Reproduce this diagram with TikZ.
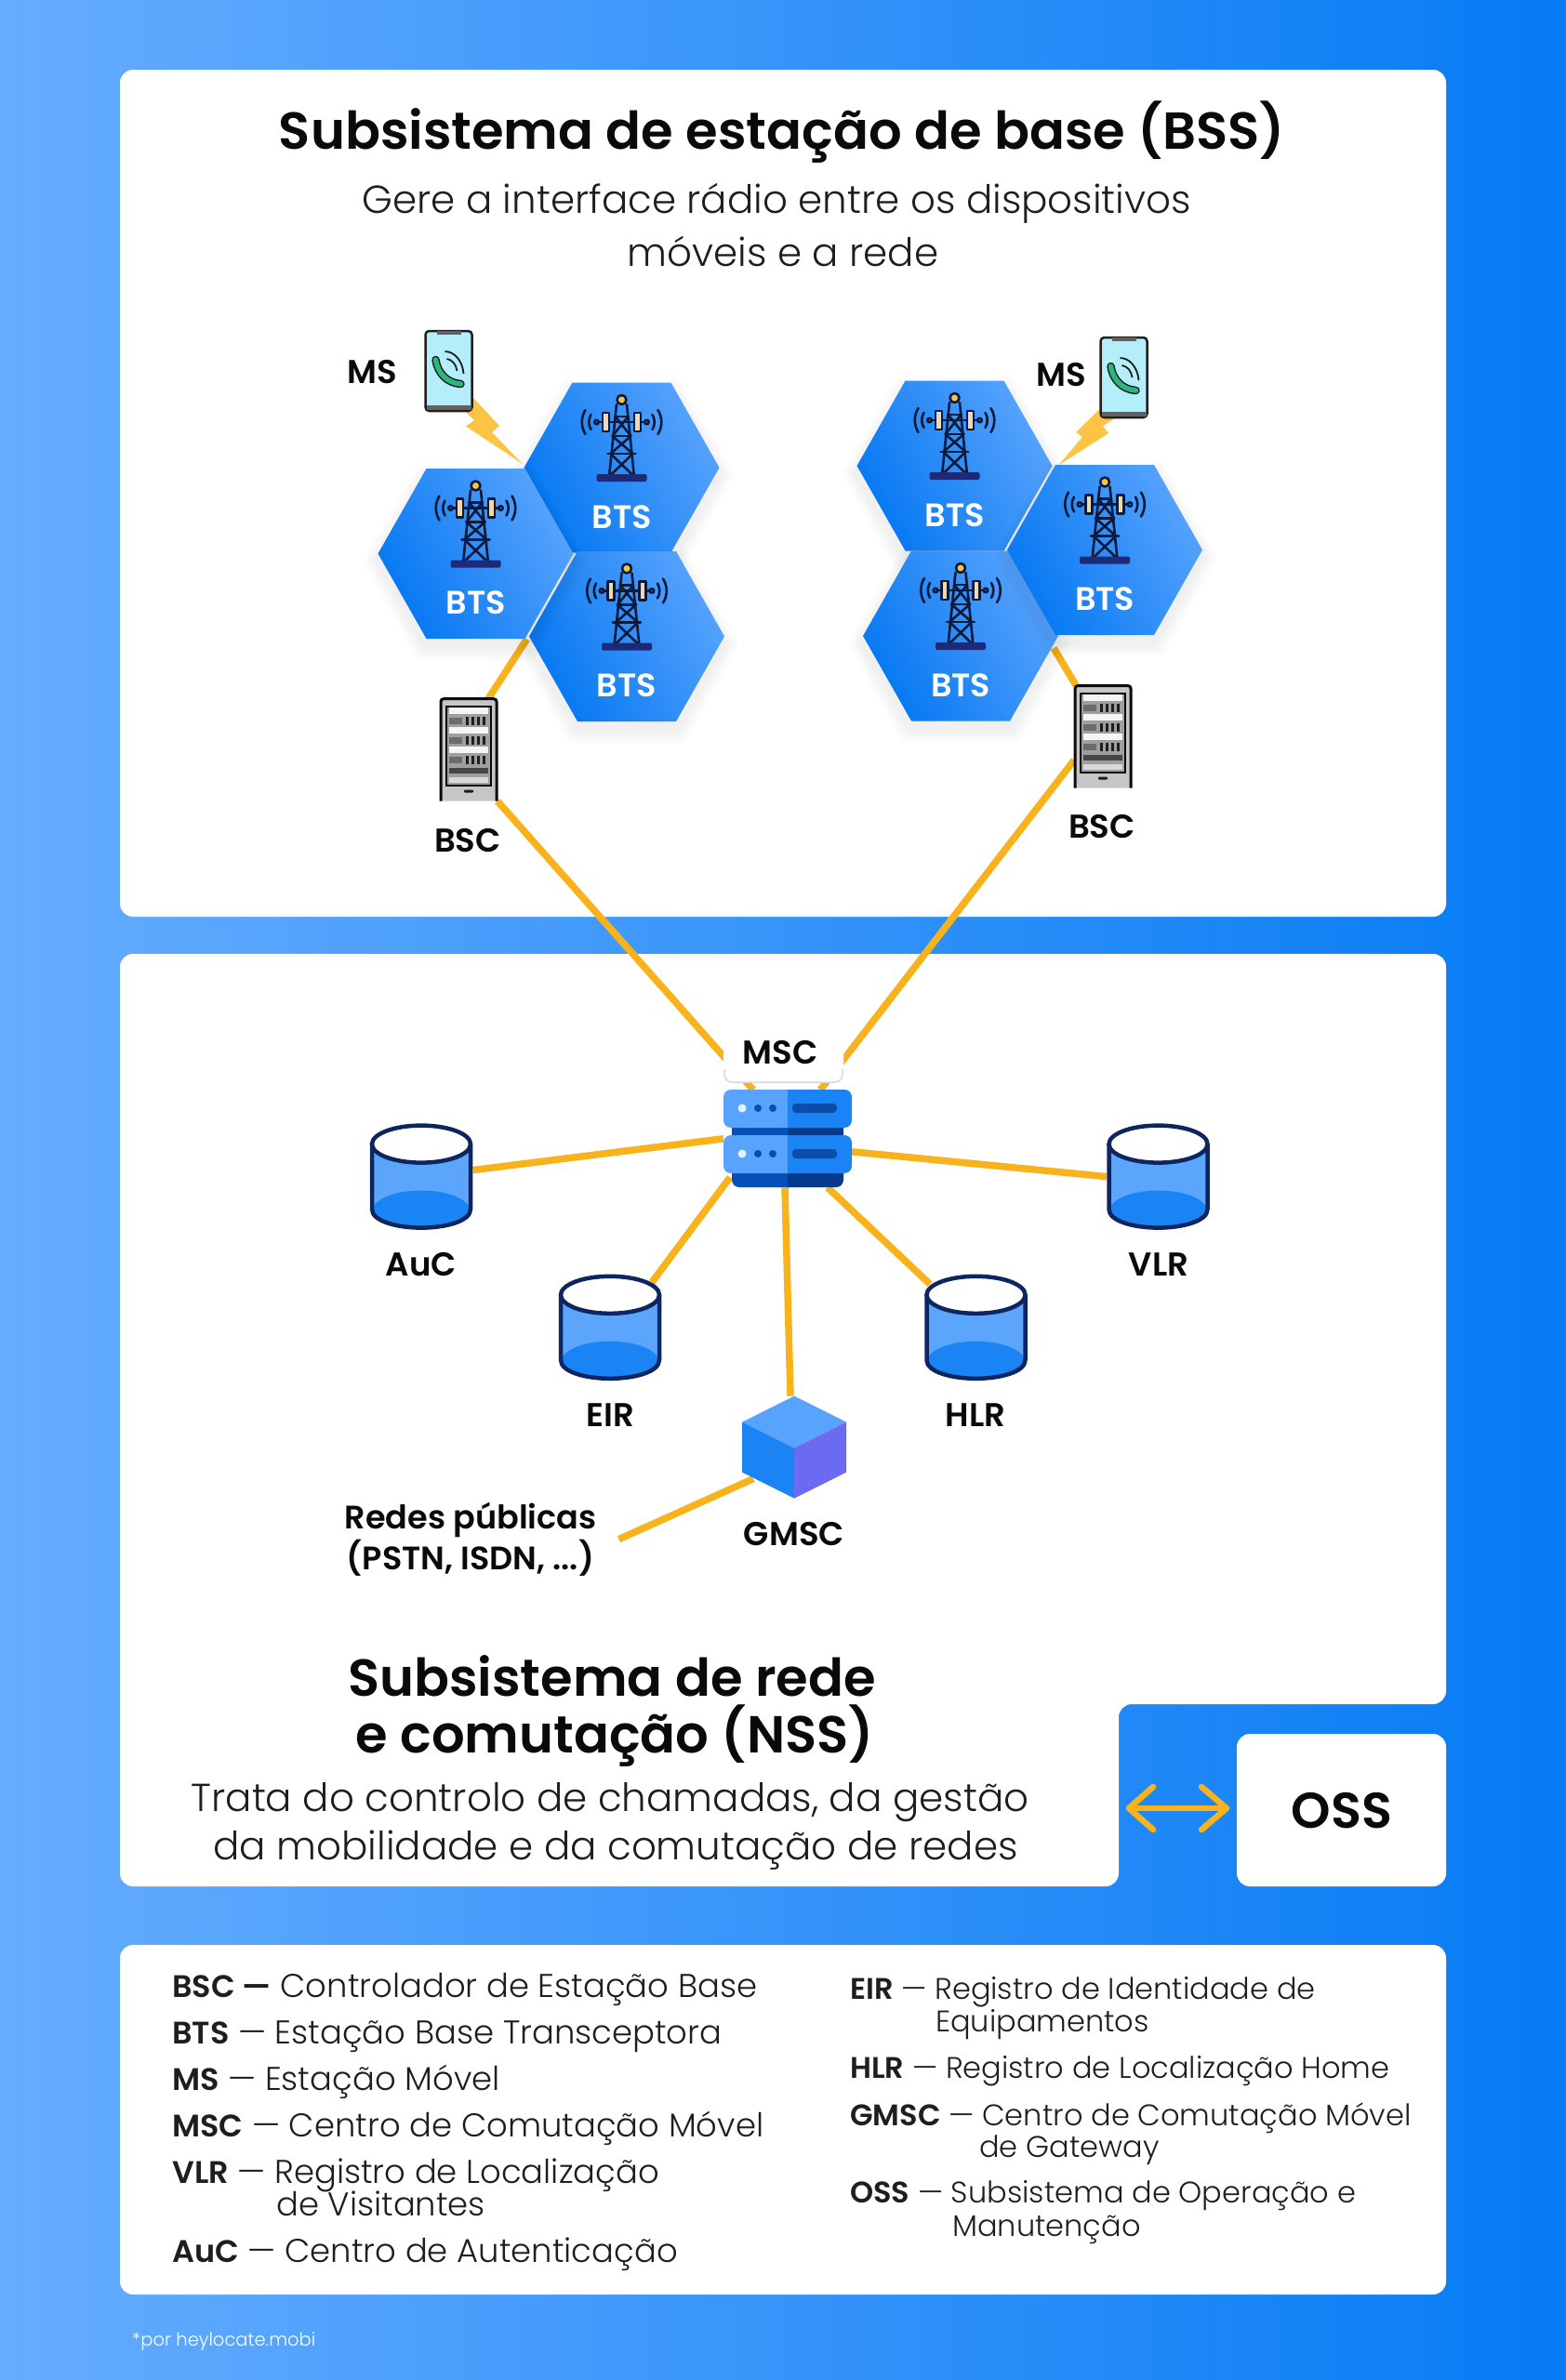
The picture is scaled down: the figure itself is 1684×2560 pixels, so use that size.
\documentclass[tikz,border=0pt]{standalone}
\usepackage{fontspec}
\setmainfont{Poppins}
\newfontfamily\plight{Poppins Light}
\newfontfamily\psemi{Poppins SemiBold}
\usetikzlibrary{calc}
\definecolor{bgL}{HTML}{66ADFF}
\definecolor{bgR}{HTML}{067BF4}
\definecolor{hexL}{HTML}{57A3FD}
\definecolor{hexR}{HTML}{0678F2}
\definecolor{wire}{HTML}{F8B31C}
\definecolor{bolt}{HTML}{FBC444}
\definecolor{navy}{HTML}{0D2660}
\definecolor{twr}{HTML}{0C1A3C}
\definecolor{twrbase}{HTML}{1E2A78}
\definecolor{cylS}{HTML}{5BA6FC}
\definecolor{cylL}{HTML}{1A84F5}
\definecolor{ink}{HTML}{0A0A0A}
\definecolor{ink2}{HTML}{1E1E1E}
\definecolor{cubeR}{HTML}{6A6BF0}
\definecolor{srvDL}{HTML}{0550B8}
\definecolor{srvDR}{HTML}{053A8D}
\definecolor{srvM}{HTML}{0B4DA8}
\definecolor{beige}{HTML}{EFD9B0}
\definecolor{screen}{HTML}{B5EEFB}
\definecolor{handset}{HTML}{2CB67D}
\tikzset{
  anchorbox/.style={inner sep=0pt,outer sep=0pt,minimum width=#1},
  wireline/.style={draw=wire,line width=7.5pt},
  panel/.style={fill=white,rounded corners=14pt},
  lab/.style={font=\psemi\fontsize{35.5}{35.5}\selectfont,text=ink,inner sep=0pt},
  btslab/.style={font=\psemi\fontsize{35}{35}\selectfont,text=white,inner sep=0pt},
  titlelab/.style={font=\psemi\fontsize{56}{56}\selectfont,text=ink,inner sep=0pt},
  sublab/.style={font=\plight\fontsize{42}{42}\selectfont,text=ink2,inner sep=0pt},
  leg/.style={font=\plight\fontsize{35.4}{35.4}\selectfont,text=ink2,inner sep=0pt,anchor=base west},
  legr/.style={font=\plight\fontsize{32}{32}\selectfont,text=ink2,inner sep=0pt,anchor=base west},
  arrowline/.style={wire,line width=6.5pt,line cap=round,line join=round},
}
\newcommand{\key}[1]{{\psemi\fontsize{33.5}{33.5}\selectfont #1}}
\newcommand{\keyr}[1]{{\psemi\fontsize{32}{32}\selectfont #1}}
\newcommand{\hexcell}[3]{%
  \begin{scope}[shift={(#2,#3)}]
    \foreach \s in {16,13,10,7,4}{
      \fill[black,opacity=0.012] (-105-\s,8) -- (-53-\s*0.6,-84-\s*0.6) -- (53+\s*0.6,-84-\s*0.6) -- (105+\s,8) -- (53+\s*0.6,99+\s) -- (-53-\s*0.6,99+\s) -- cycle;
    }
    \shade[left color=hexL,right color=hexR,shading angle=-60] (-105,0) -- (-53,-91.5) -- (53,-91.5) -- (105,0) -- (53,91.5) -- (-53,91.5) -- cycle;
    \begin{scope}[draw=twr,line width=2.6pt,line cap=round,line join=round]
      \draw (-5.5,-68) -- (-13.5,10) (5.5,-68) -- (13.5,10);
      \draw (-10,-34) -- (10,-34) (-15,-15) -- (15,-15) (-7,-55) -- (7,-55);
      \draw (-7,-55) -- (10,-34) (7,-55) -- (-10,-34) (-10,-34) -- (12,-15) (10,-34) -- (-12,-15) (-12,-15) -- (13,9) (12,-15) -- (-13,9);
      \draw (-24,-49) -- (24,-49);
      \draw[fill=beige] (-20.5,-59) rectangle (-13.5,-39);
      \draw[fill=beige] (13.5,-59) rectangle (20.5,-39);
      \draw[fill=hexL] (-27,-49) circle (2.2) (27,-49) circle (2.2);
      \draw (-33,-57) .. controls (-36,-52) and (-36,-46) .. (-33,-41);
      \draw (-39,-62) .. controls (-44,-54) and (-44,-44) .. (-39,-36);
      \draw (33,-57) .. controls (36,-52) and (36,-46) .. (33,-41);
      \draw (39,-62) .. controls (44,-54) and (44,-44) .. (39,-36);
      \draw[fill=bolt] (0,-73) circle (5);
    \end{scope}
    \fill[twrbase,rounded corners=2pt] (-27,7) rectangle (27,15);
    \node[btslab] (#1) at (0,53) {BTS};
  \end{scope}}
\newcommand{\phoneicon}[2]{%
  \begin{scope}[shift={(#1,#2)}]
    \draw[fill=screen,draw=ink2,line width=2.5pt,rounded corners=4pt] (-25,-43) rectangle (25,43);
    \fill[ink2!70!white] (-13,-43) rectangle (13,-39);
    \fill[ink2!70!white] (-24,37) rectangle (24,42);
    \draw[draw=ink2,line width=8.5pt,line cap=round] (-14,-12) .. controls (-12,2) and (-2,13) .. (13,14);
    \draw[draw=handset,line width=5.5pt,line cap=round] (-14,-12) .. controls (-12,2) and (-2,13) .. (13,14);
    \draw[ink2,line width=1.8pt] (-2,-13) .. controls (4,-12) and (8,-7) .. (9,0);
    \draw[ink2,line width=1.8pt] (-4,-21) .. controls (6,-21) and (15,-11) .. (16,3);
  \end{scope}}
\newcommand{\rackicon}[2]{%
  \begin{scope}[shift={(#1,#2)}]
    \draw[fill=gray!45!white,draw=ink,line width=3pt,rounded corners=3pt] (-30,55) -- (-30,-55) -- (30,-55) -- (30,55);
    \draw[fill=gray!75!white,draw=ink,line width=2pt] (-24,-47) rectangle (24,38);
    \foreach \y in {-42,-21,0}{
      \fill[white!92!gray] (-21,\y-3.5) rectangle (21,\y+3.5);
      \fill[gray!85!black] (-21,\y+7) rectangle (-7,\y+14);
      \foreach \x in {-3,3,9,15}{\fill[ink2] (\x,\y+6) rectangle (\x+2.5,\y+15);}
    }
    \fill[gray!55!black] (-21,19) rectangle (21,25);
    \fill[gray!30!white] (-21,29) rectangle (21,35);
    \fill[ink2,rounded corners=1pt] (-5,43) rectangle (5,46);
  \end{scope}}
\newcommand{\cylicon}[2]{%
  \begin{scope}[shift={(#1,#2)}]
    \draw[fill=cylS,draw=none] (-53,-35) -- (-53,35) .. controls (-53,48) and (-26,55) .. (0,55) .. controls (26,55) and (53,48) .. (53,35) -- (53,-35) -- cycle;
    \fill[cylL] (-53,35) .. controls (-48,22) and (-25,15) .. (0,15) .. controls (25,15) and (48,22) .. (53,35) .. controls (53,48) and (26,55) .. (0,55) .. controls (-26,55) and (-53,48) .. (-53,35) -- cycle;
    \draw[navy,line width=4.5pt,line join=round] (-53,-35) -- (-53,35) .. controls (-53,48) and (-26,55) .. (0,55) .. controls (26,55) and (53,48) .. (53,35) -- (53,-35);
    \draw[fill=white,draw=navy,line width=4.5pt] (0,-35) ellipse (53 and 20);
  \end{scope}}
\begin{document}
\begin{tikzpicture}[x=1pt,y=-1pt]
\useasboundingbox (0,0) rectangle (1684,2560);
\shade[left color=bgL,right color=bgR] (0,0) rectangle (1684,2560);
\fill[panel] (129,75) rectangle (1555,986);
\fill[white,rounded corners=14pt] (129,1026) -- (1555,1026) -- (1555,1833) -- (1203,1833) -- (1203,2029) -- (129,2029) -- cycle;
\fill[panel] (1330,1865) rectangle (1555,2029);
\fill[panel] (129,2092) rectangle (1555,2468);
\node[inner sep=0pt,font=\psemi\fontsize{54}{54}\selectfont,text=ink] (osslabel) at (1443,1948) {OSS};
\node[anchorbox=210pt,minimum height=184pt] (hexA) at (511.5,595.5) {};
\node[anchorbox=62pt,minimum height=110pt] (bscL) at (504,806.7) {};
\node[anchorbox=212pt,minimum height=184pt] (hexE) at (1033,684) {};
\node[anchorbox=62pt,minimum height=111pt] (bscR) at (1186,792.6) {};
\node[anchorbox=138pt,minimum height=105pt] (server) at (847,1224.8) {};
\node[anchorbox=111pt,minimum height=111pt] (auc) at (453,1265.6) {};
\node[anchorbox=111pt,minimum height=111pt] (vlr) at (1245.5,1265.6) {};
\node[anchorbox=109pt,minimum height=111pt] (eir) at (656,1427.8) {};
\node[anchorbox=109pt,minimum height=111pt] (hlr) at (1049.5,1427.8) {};
\node[anchorbox=112pt,minimum height=110pt] (cube) at (854,1556.6) {};
\node[font=\psemi\fontsize{35}{44}\selectfont,text=ink,inner sep=0pt,align=center] (redes) at (506,1655.6) {Redes públicas\\(PSTN, ISDN, ...)};
\draw[wireline] ([xshift=-50pt]hexA.south east) -- ([xshift=21pt]bscL.north);
\draw[wireline] ([xshift=-6pt,yshift=-13pt]hexE.east) -- ([xshift=-29pt]bscR.north);
\draw[wireline] (bscL.south east) -- ([xshift=32pt]server.north west);
\draw[wireline] ([yshift=-25pt]bscR.west) -- ([xshift=-34pt]server.north east);
\draw[wireline] ([yshift=7pt]auc.east) -- (server.west);
\draw[wireline] (vlr.west) -- ([yshift=-14pt]server.east);
\draw[wireline] ([xshift=45pt,yshift=-7pt]eir.north) -- ([xshift=7pt,yshift=11pt]server.south west);
\draw[wireline] ([xshift=-49.5pt,yshift=-9pt]hlr.north) -- ([xshift=43pt]server.south);
\draw[wireline] ([xshift=-3pt]server.south) -- ([xshift=-4pt]cube.north);
\draw[wireline] ([xshift=24pt]redes.east) -- ([xshift=12pt,yshift=21pt]cube.south west);
\fill[bolt] (508,427) -- (537,458) -- (529,465) -- (562,499) -- (501,458.5) -- (510,452) -- (502,444) -- cycle;
\fill[bolt] (1182,440.5) -- (1157,465) -- (1164,470) -- (1138,500.6) -- (1192,466) -- (1186,458.5) -- (1198,450) -- cycle;
\hexcell{btsB}{668.5}{503}
\hexcell{btsC}{674}{684.5}
\hexcell{btsA}{511.5}{595.5}
\hexcell{btsD}{1026.5}{501}
\hexcell{btsE}{1033}{684}
\hexcell{btsF}{1188}{591.5}
\phoneicon{482.5}{399}
\phoneicon{1208.5}{406}
\rackicon{504}{806.7}
\rackicon{1186}{792.6}
\node[titlelab] (titleB) at (841,142) {Subsistema de estação de base (BSS)};
\node[sublab] (subB1) at (835,219) {Gere a interface rádio entre os dispositivos};
\node[sublab] (subB2) at (842,270) {móveis e a rede};
\node[lab] (ms1) at (400,400) {MS};
\node[lab] (ms2) at (1141,403) {MS};
\node[lab] (bsc1) at (503,904) {BSC};
\node[lab] (bsc2) at (1185,889) {BSC};
\fill[white,rounded corners=10pt] (778,1109) rectangle (907,1164);
\draw[gray!30,line width=1.5pt] (779,1150) -- (779,1156) .. controls (780,1162) and (783,1164) .. (788,1164) -- (897,1164) .. controls (902,1164) and (905,1162) .. (906,1156) -- (906,1150);
\node[lab] (msc) at (839,1132) {MSC};
\begin{scope}[shift={(-2,-1)}]
\fill[srvDL,rounded corners=8pt] (789,1250) rectangle (860,1278);
\fill[srvDR,rounded corners=8pt] (840,1250) rectangle (909,1278);
\fill[srvDL] (840,1250) rectangle (849,1278);
\fill[srvDL] (789,1210) rectangle (849,1226);
\fill[srvDR] (849,1210) rectangle (909,1226);
\foreach \y in {1173,1222}{
  \fill[hexL,rounded corners=8pt] (780,\y) rectangle (860,\y+41);
  \fill[cylL,rounded corners=8pt] (840,\y) rectangle (918,\y+41);
  \fill[hexL] (840,\y) rectangle (849,\y+41);
  \fill[cylL] (849,\y) rectangle (860,\y+41);
  \fill[white!85!hexL] (800,\y+20) circle (4.5);
  \fill[srvM] (817,\y+20) circle (4);
  \fill[srvM] (833,\y+20) circle (4);
  \fill[srvM,rounded corners=4pt] (854,\y+15) rectangle (902,\y+25);
}
\end{scope}
\cylicon{453}{1265.6}
\cylicon{1245.5}{1265.6}
\cylicon{656}{1427.8}
\cylicon{1049.5}{1427.8}
\begin{scope}[shift={(-2,-2.4)}]
\fill[hexL] (856,1504) -- (912,1532) -- (856,1560) -- (800,1532) -- cycle;
\fill[cylL] (800,1532) -- (856,1560) -- (856,1614) -- (800,1586) -- cycle;
\fill[cubeR] (912,1532) -- (856,1560) -- (856,1614) -- (912,1586) -- cycle;
\end{scope}
\node[lab] (lauc) at (453,1359.6) {AuC};
\node[lab] (lvlr) at (1246,1359.6) {VLR};
\node[lab] (leir) at (656,1522) {EIR};
\node[lab] (lhlr) at (1049,1522) {HLR};
\node[lab] (lgmsc) at (854,1650) {GMSC};
\node[titlelab] (titleN1) at (658,1803) {Subsistema de rede};
\node[titlelab] (titleN2) at (661,1867) {e comutação (NSS)};
\node[sublab] (subN1) at (656,1939) {Trata do controlo de chamadas, da gestão};
\node[sublab] (subN2) at (662,1990) {da mobilidade e da comutação de redes};
\coordinate (arrL) at (1214,1945);
\coordinate (arrR) at (1319,1945);
\draw[arrowline] (arrL) -- (arrR);
\draw[arrowline] ($(arrL)+(26,-23)$) -- (arrL) -- ($(arrL)+(26,23)$);
\draw[arrowline] ($(arrR)+(-27,-23)$) -- (arrR) -- ($(arrR)+(-27,23)$);
\node[leg] (l1) at (185,2148) {\key{BSC —} Controlador de Estação Base};
\node[leg] (l2) at (185,2198) {\key{BTS} — Estação Base Transceptora};
\node[leg] (l3) at (185,2248) {\key{MS} — Estação Móvel};
\node[leg] (l4) at (185,2298) {\key{MSC} — Centro de Comutação Móvel};
\node[leg] (l5) at (185,2348) {\key{VLR} — Registro de Localização};
\node[leg] (l5b) at (297,2383) {de Visitantes};
\node[leg] (l6) at (185,2433) {\key{AuC} — Centro de Autenticação};
\node[legr] (r1) at (914,2150) {\keyr{EIR} — Registro de Identidade de};
\node[legr] (r1b) at (1006,2185) {Equipamentos};
\node[legr] (r2) at (914,2235) {\keyr{HLR} — Registro de Localização Home};
\node[legr] (r3) at (914,2286) {\keyr{GMSC} — Centro de Comutação Móvel};
\node[legr] (r3b) at (1053,2320) {de Gateway};
\node[legr] (r4) at (914,2369) {\keyr{OSS} — Subsistema de Operação e};
\node[legr] (r4b) at (1024,2405) {Manutenção};
\node[font=\plight\fontsize{19.5}{19.5}\selectfont,text=white,inner sep=0pt,anchor=base west] (foot) at (142,2523) {*por heylocate.mobi};
\end{tikzpicture}
\end{document}
